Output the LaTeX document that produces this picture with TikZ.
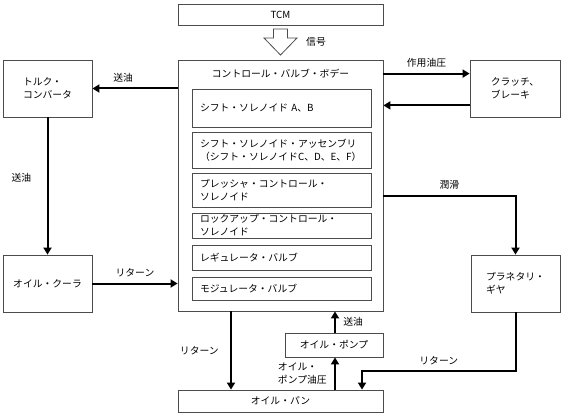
\documentclass[tikz,border=0pt]{standalone}
\usepackage{fontspec}
\setmainfont{Noto Sans CJK JP}
\usetikzlibrary{arrows.meta,calc}

\tikzset{
  box/.style={draw=black!70, line width=0.8pt, inner sep=0pt},
  part/.style={box, minimum height=#1, text width=163pt, inner xsep=8pt, align=left},
  flow/.style={line width=2pt, -{Triangle[length=7pt,width=8pt]}},
}

\begin{document}
\begin{tikzpicture}[x=1pt, y=-1pt, font=\fontsize{9.8pt}{13pt}\selectfont]

\useasboundingbox (0,0) rectangle (575,417);

\node[box, minimum width=205, minimum height=21] (tcm) at (280.5,14.5) {TCM};
\node[box, minimum width=205, minimum height=251] (cvb) at (280.5,185.5) {};
\node at (280.5,74) {コントロール・バルブ・ボデー};

\node[part=38] (solab) at (281.5,108) {シフト・ソレノイド A、B};
\node[part=36] (solasm) at (281.5,150) {シフト・ソレノイド・アッセンブリ\\（シフト・ソレノイドC、D、E、F）};
\node[part=34] (pcsol) at (281.5,190) {プレッシャ・コントロール・\\ソレノイド};
\node[part=25] (lusol) at (281.5,225.5) {ロックアップ・コントロール・\\ソレノイド};
\node[part=25] (regv) at (281.5,257.5) {レギュレータ・バルブ};
\node[part=23] (modv) at (281.5,288.5) {モジュレータ・バルブ};

\node[box, minimum width=89, minimum height=57, align=left] (tconv) at (47.5,88.5) {トルク・\\コンバータ};
\node[box, minimum width=89, minimum height=57] (ocool) at (47.5,283.5) {オイル・クーラ};
\node[box, minimum width=90, minimum height=57, align=left] (clbr) at (515,88.5) {クラッチ、\\ブレーキ};
\node[box, minimum width=89, minimum height=57, align=left] (pgear) at (515.5,283.5) {プラネタリ・\\ギヤ};
\node[box, minimum width=205, minimum height=22] (opan) at (280.5,401) {オイル・パン};
\node[box, minimum width=98, minimum height=24] (opump) at (334,345) {オイル・ポンプ};

\draw[black!70, line width=0.8pt] (273.5,29) -- (287.5,29) -- (287.5,38) -- (297,38)
  -- (280.5,55) -- (264,38) -- (273.5,38) -- cycle;
\node at (316,42) {信号};

\draw[flow] (cvb.west |- tconv.east) -- (tconv.east) node[pos=0.64, above=2pt] {送油};
\draw[flow] (tconv.south) -- (ocool.north) node[midway, left=12pt, yshift=8pt] {送油};
\draw[flow] (ocool.east) -- (cvb.west |- ocool.east) node[midway, above=2pt] {リターン};

\coordinate (pres) at ($(clbr.north west)+(0,14)$);
\coordinate (back) at ($(clbr.south west)+(0,-12)$);
\draw[flow] (cvb.east |- pres) -- (pres) node[midway, above=2pt] {作用油圧};
\draw[flow] (back) -- (cvb.east |- back);

\coordinate (lube) at (cvb.east |- 0,196);
\draw[flow] (lube) -| (pgear.north) node[pos=0.25, above=2pt] {潤滑};

\coordinate (ret) at (362,371);
\draw[flow] (pgear.south) |- (ret) node[pos=0.75, above=2pt] {リターン} -- (ret |- opan.north);

\coordinate (drain) at (231,0);
\draw[flow] (drain |- cvb.south) -- (drain |- opan.north) node[midway, left=8pt] {リターン};

\coordinate (feed) at (335,0);
\draw[flow] (feed |- opan.north) -- (feed |- opump.south) node[midway, left=4pt, align=left] {オイル・\\ポンプ油圧};
\draw[flow] (feed |- opump.north) -- (feed |- cvb.south) node[midway, right=4pt] {送油};

\end{tikzpicture}
\end{document}
